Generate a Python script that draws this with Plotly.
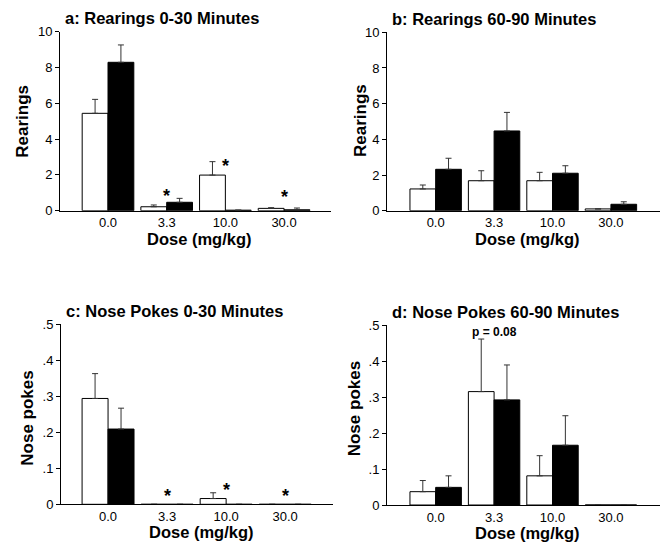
import plotly.graph_objects as go

# the page body adds an 8px margin; draw the figure 8px smaller and shift coordinates
OFF = 8
W, H = 669 - OFF, 551 - OFF
FONT = "Liberation Sans, Arial, Helvetica, sans-serif"

doses = ["0.0", "3.3", "10.0", "30.0"]

a_white = [5.44, 0.22, 1.99, 0.13]
a_white_err = [0.78, 0.10, 0.75, 0.04]
a_black = [8.29, 0.47, 0.03, 0.05]
a_black_err = [0.97, 0.22, 0.0, 0.10]

b_white = [1.22, 1.68, 1.68, 0.10]
b_white_err = [0.22, 0.56, 0.47, 0.0]
b_black = [2.32, 4.47, 2.10, 0.36]
b_black_err = [0.62, 1.04, 0.42, 0.14]

c_white = [0.294, 0.0, 0.016, 0.0]
c_white_err = [0.069, 0.0, 0.016, 0.0]
c_black = [0.209, 0.0, 0.0, 0.0]
c_black_err = [0.058, 0.0, 0.0, 0.0]

d_white = [0.037, 0.315, 0.081, 0.0]
d_white_err = [0.031, 0.146, 0.056, 0.0]
d_black = [0.049, 0.292, 0.166, 0.0]
d_black_err = [0.032, 0.097, 0.082, 0.0]

titles = ["a: Rearings 0-30 Minutes", "b: Rearings 60-90 Minutes",
          "c: Nose Pokes 0-30 Minutes", "d: Nose Pokes 60-90 Minutes"]
ytitles = ["Rearings", "Rearings", "Nose pokes", "Nose pokes"]
xtitle = "Dose (mg/kg)"

rear_ticks = [0, 2, 4, 6, 8, 10]
rear_ticktext = ["0", "2", "4", "6", "8", "10"]
poke_ticks = [0, 0.1, 0.2, 0.3, 0.4, 0.5]
poke_ticktext = ["0", ".1", ".2", ".3", ".4", ".5"]

stars_a = [("3.3", 1.06), ("10.0", 2.7), ("30.0", 0.98)]
stars_c = [("3.3", 0.035), ("10.0", 0.051), ("30.0", 0.035)]
p_note = ("3.3", 0.481, "p = 0.08")

# panel geometry in page pixels: (x0, x1, ytop, ybottom, xrange)
panels = [
    (60, 331, 31.7, 210.7, [-0.818, 3.80]),
    (387, 660, 32.3, 210.7, [-0.833, 3.84]),
    (61, 333, 324.3, 504.3, [-0.797, 3.81]),
    (387, 660, 325, 505, [-0.833, 3.84]),
]

def px(x):
    return (x - OFF) / W

def py(y):
    return 1 - (y - OFF) / H

data = [
    (a_white, a_white_err, a_black, a_black_err),
    (b_white, b_white_err, b_black, b_black_err),
    (c_white, c_white_err, c_black, c_black_err),
    (d_white, d_white_err, d_black, d_black_err),
]

fig = go.Figure()
layout = {}
annotations = []

for i, ((wv, we, bv, be), (x0, x1, yt, yb, xr)) in enumerate(zip(data, panels)):
    n = i + 1
    xa = "x" if n == 1 else f"x{n}"
    ya = "y" if n == 1 else f"y{n}"
    for vals, errs, fill in ((wv, we, "white"), (bv, be, "black")):
        fig.add_trace(go.Bar(
            x=doses, y=vals, xaxis=xa, yaxis=ya,
            marker=dict(color=fill, line=dict(color="black", width=1)),
            error_y=dict(type="data", array=errs, arrayminus=[0] * len(errs),
                         symmetric=False, color="#333333", thickness=1, width=3),
            showlegend=False, offsetgroup=fill,
        ))
    rear = n <= 2
    layout["xaxis" if n == 1 else f"xaxis{n}"] = dict(
        domain=[px(x0), px(x1)], anchor=ya, range=xr, type="category",
        showline=True, linecolor="black", linewidth=1, ticks="",
        showgrid=False, zeroline=False, automargin=False,
        tickfont=dict(family=FONT, size=13, color="black"),
    )
    layout["yaxis" if n == 1 else f"yaxis{n}"] = dict(
        domain=[py(yb), py(yt)], anchor=xa,
        range=[0, 10] if rear else [0, 0.5],
        tickvals=rear_ticks if rear else poke_ticks,
        ticktext=rear_ticktext if rear else poke_ticktext,
        showline=True, linecolor="black", linewidth=1,
        ticks="outside", ticklen=4, tickwidth=1, tickcolor="black",
        showgrid=False, zeroline=False, automargin=False,
        tickfont=dict(family=FONT, size=13, color="black"),
    )
    # panel title
    annotations.append(dict(
        text=f"<b>{titles[i]}</b>", xref="paper", yref="paper",
        x=px(x0 + 3), y=py(yt - 13.5), xanchor="left", yanchor="middle",
        showarrow=False, font=dict(family=FONT, size=16.5, color="black")))
    # x title
    annotations.append(dict(
        text=f"<b>{xtitle}</b>", xref="paper", yref="paper",
        x=px((x0 + x1) / 2 + 4), y=py(yb + 28), xanchor="center", yanchor="middle",
        showarrow=False, font=dict(family=FONT, size=16.5, color="black")))

ytitle_pos = [(21.7, 121), (360, 121), (26.7, 418), (354.3, 409)]
for i, (xp, yp) in enumerate(ytitle_pos):
    annotations.append(dict(
        text=f"<b>{ytitles[i]}</b>", xref="paper", yref="paper",
        x=px(xp), y=py(yp), xanchor="center", yanchor="middle", textangle=-90,
        showarrow=False, font=dict(family=FONT, size=17, color="black")))

for (cat, val) in stars_a:
    annotations.append(dict(text="<b>*</b>", xref="x", yref="y", x=doses.index(cat), y=val,
                            xanchor="center", yanchor="middle", yshift=-4, showarrow=False,
                            font=dict(family=FONT, size=18, color="black")))
for (cat, val) in stars_c:
    annotations.append(dict(text="<b>*</b>", xref="x3", yref="y3", x=doses.index(cat), y=val,
                            xanchor="center", yanchor="middle", yshift=-4, showarrow=False,
                            font=dict(family=FONT, size=18, color="black")))
annotations.append(dict(text=f"<b>{p_note[2]}</b>", xref="x4", yref="y4",
                        x=doses.index(p_note[0]), y=p_note[1], xanchor="center", yanchor="middle",
                        showarrow=False, font=dict(family=FONT, size=12, color="black")))

fig.update_layout(
    width=W, height=H, margin=dict(l=0, r=0, t=0, b=0),
    paper_bgcolor="white", plot_bgcolor="white",
    barmode="group", bargap=0.12, bargroupgap=0,
    annotations=annotations, **layout,
)

fig.write_html("out.html")
